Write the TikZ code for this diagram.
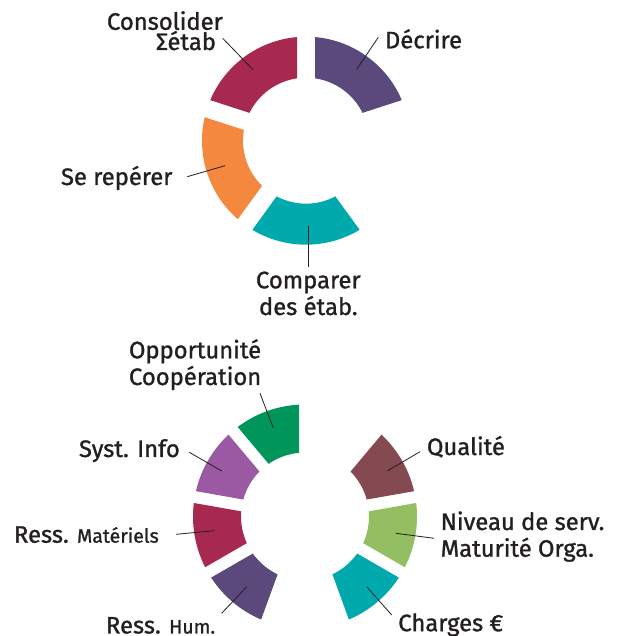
\documentclass[tikz,border=0pt]{standalone}
\usepackage{fontspec}
\setmainfont{Fira Sans}[FakeBold=1.2]
\usetikzlibrary{calc}
\definecolor{cCrimson}{HTML}{A8294F}
\definecolor{cPurple}{HTML}{5C497C}
\definecolor{cOrange}{HTML}{F3883E}
\definecolor{cTeal}{HTML}{00A9AC}
\definecolor{cGreen}{HTML}{00955A}
\definecolor{cViolet}{HTML}{9C59A3}
\definecolor{cBrown}{HTML}{854952}
\definecolor{cLight}{HTML}{93BE62}
\definecolor{cText}{HTML}{231F20}
\newcommand{\ringseg}[8]{%
  \pgfmathsetmacro{\ra}{#3+asin(#7/#5)}%
  \pgfmathsetmacro{\rb}{#4-asin(#7/#5)}%
  \pgfmathsetmacro{\rc}{#4-asin(#7/#6)}%
  \pgfmathsetmacro{\rd}{#3+asin(#7/#6)}%
  \fill[#8] ($(#1,#2)+(\ra:#5)$) arc[start angle=\ra, end angle=\rb, radius=#5]
    -- ($(#1,#2)+(\rc:#6)$) arc[start angle=\rc, end angle=\rd, radius=#6] -- cycle;}
\newcommand{\smlab}{\fontsize{19.5}{22}\selectfont}
\begin{document}
\begin{tikzpicture}[x=1pt,y=1pt,
  lbl/.style={inner sep=0pt, outer sep=0pt, font=\fontsize{23.8}{26.7}\selectfont, text=cText, align=left},
  leader/.style={draw=cText, line width=0.8pt}]
\useasboundingbox (0,0) rectangle (621,636);
% top ring
\ringseg{306}{495.3}{18}{90}{104}{63}{9}{cPurple}
\ringseg{306}{495.3}{90}{162}{104}{63}{9}{cCrimson}
\ringseg{306}{495.3}{162}{234}{104}{63}{9}{cOrange}
\ringseg{306}{495.3}{234}{306}{104}{63}{9}{cTeal}
% bottom ring
\ringseg{305}{119.5}{90}{130}{112}{64}{6}{cGreen}
\ringseg{305}{119.5}{130}{170}{112}{64}{6}{cViolet}
\ringseg{305}{119.5}{170}{210}{112}{64}{6}{cCrimson}
\ringseg{305}{119.5}{210}{250}{112}{64}{6}{cPurple}
\ringseg{305}{119.5}{290}{330}{112}{64}{6}{cTeal}
\ringseg{305}{119.5}{-30}{10}{112}{64}{6}{cLight}
\ringseg{305}{119.5}{10}{50}{112}{64}{6}{cBrown}
% labels (base anchor = baseline of the last line)
\node[lbl, anchor=base west] (consolider) at (107,586) {Consolider\\[-6.5pt]\hspace*{49pt}Σétab};
\node[lbl, anchor=base west] (decrire) at (385,587.7) {Décrire};
\node[lbl, anchor=base west] (reperer) at (61,451) {Se repérer};
\node[lbl, anchor=base, align=center] (comparer) at (308.3,321) {Comparer\\des étab.};
\node[lbl, anchor=base west] (opport) at (129,251) {Opportunité\\Coopération};
\node[lbl, anchor=base west] (syst) at (79,179) {Syst. Info};
\node[lbl, anchor=base west] (rmat) at (14,93.3) {Ress. {\smlab Matériels}};
\node[lbl, anchor=base west] (rhum) at (106,2.5) {Ress. {\smlab Hum.}};
\node[lbl, anchor=base west] (qual) at (427,181) {Qualité};
\node[lbl, anchor=base west] (niveau) at (440.7,79.3) {Niveau de serv.\\Maturité Orga.};
\node[lbl, anchor=base west] (charges) at (398.3,4.8) {Charges €};
% leader end points
\coordinate (dA) at (356.7,566.7); \coordinate (dB) at (378.3,598.7);
\coordinate (cA) at (253.3,566); \coordinate (cB) at (222.7,597.7);
\coordinate (rA) at (225,470.3); \coordinate (rB) at (187.3,459.3);
\coordinate (kA) at (308.3,410); \coordinate (kB) at (308.3,369.3);
\coordinate (oA) at (273.3,208); \coordinate (oB) at (260,242.7);
\coordinate (sA) at (221.7,165); \coordinate (sB) at (189.3,183.7);
\coordinate (mA) at (214.3,105.3); \coordinate (mB) at (176,101.7);
\coordinate (hA) at (246.7,49.3); \coordinate (hB) at (221.7,22.7);
\coordinate (qA) at (387.3,165); \coordinate (qB) at (420,184.3);
\coordinate (nA) at (396,102.7); \coordinate (nB) at (434,97.7);
\coordinate (gA) at (366.7,49.3); \coordinate (gB) at (391.7,21);
\foreach \p in {d,c,r,k,o,s,m,h,q,n,g} {\draw[leader] (\p A) -- (\p B);}
\end{tikzpicture}
\end{document}
